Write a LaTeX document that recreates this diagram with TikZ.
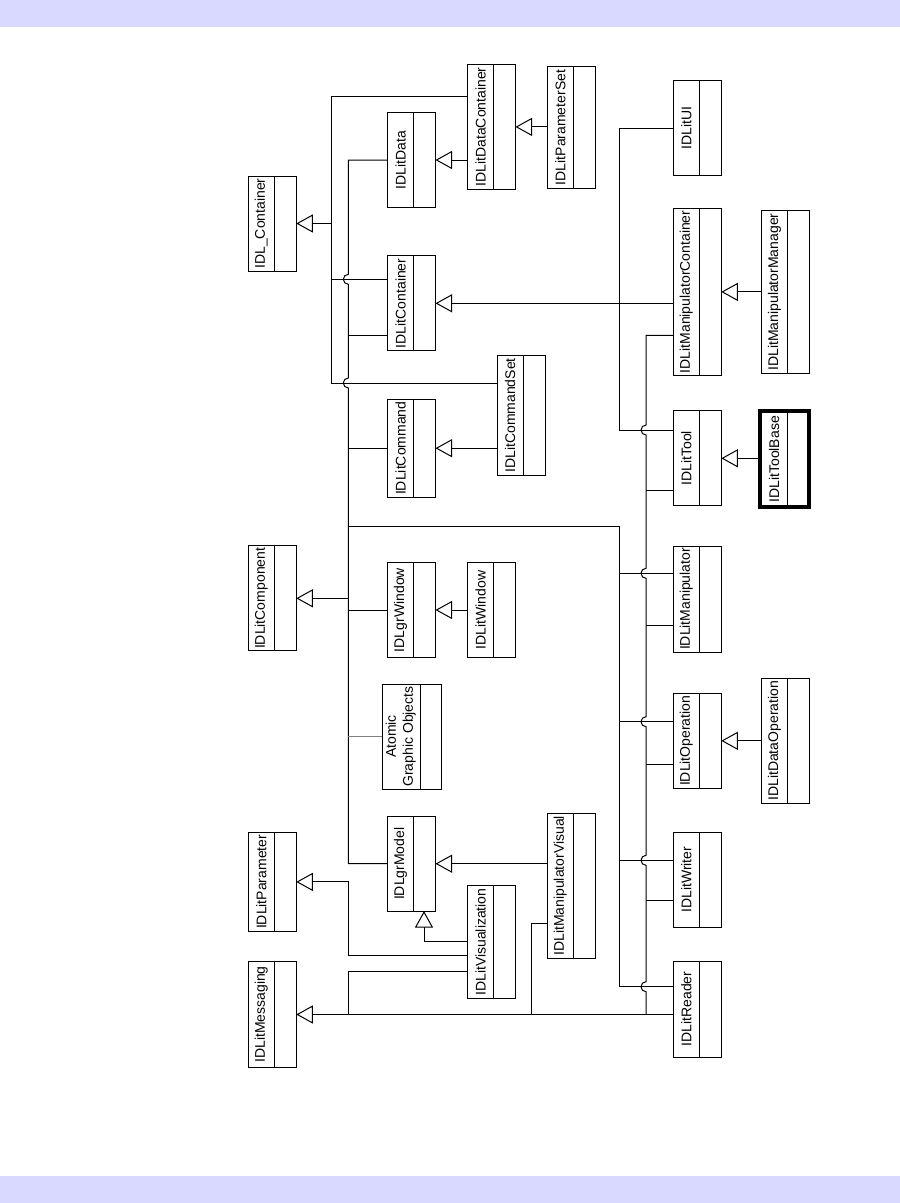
\documentclass[tikz,border=0pt]{standalone}
\usepackage{fontspec}
\setmainfont{Liberation Sans}
\usepackage{tikz}
\usetikzlibrary{arrows.meta, calc}
\definecolor{umlband}{RGB}{217,217,255}
\definecolor{umlgray}{RGB}{128,128,128}
\newcommand{\clsfont}{\fontsize{14bp}{17bp}\selectfont}

\begin{document}
\begin{tikzpicture}[x=1bp, y=-1bp, line width=1bp,
  clsbox/.style={draw, rectangle, minimum width=48bp, inner sep=0pt, outer sep=0pt},
  clsname/.style={rotate=90, font=\clsfont, inner sep=0pt},
  genarrow/.style={-{Triangle[open, length=16.5bp, width=18bp]}}]
\useasboundingbox (0,0) rectangle (900,1203);

% bands
\fill[umlband] (0,0) rectangle (900,27);
\fill[umlband] (0,1176) rectangle (900,1203);

% class box: id, x, y, height, name
\def\umlclass#1#2#3#4#5{%
  \node[clsbox, minimum height=#4bp] (#1) at (#2,#3) {};
  \draw ([xshift=2bp]#1.north) -- ([xshift=2bp]#1.south);
  \node[clsname] (#1-name) at ([xshift=-11bp]#1.center) {#5};
}

% ---- column 1 ----
\umlclass{idlcont}{272.3}{223.5}{95}{IDL\_Container}
\umlclass{comp}{272.3}{598.3}{105.3}{IDLitComponent}
\umlclass{param}{272.3}{881.9}{98.3}{IDLitParameter}
\umlclass{msg}{272.3}{1014.5}{105.6}{IDLitMessaging}

% ---- column 2 ----
\umlclass{data}{411.5}{160}{95.4}{IDLitData}
\umlclass{cont}{411.5}{303.3}{95.3}{IDLitContainer}
\umlclass{cmd}{411.5}{448.2}{98.3}{IDLitCommand}
\umlclass{grwin}{411.5}{610}{94.6}{IDLgrWindow}
\umlclass{model}{411.5}{863.7}{94.7}{IDLgrModel}

\node[clsbox, minimum width=58.7bp, minimum height=105bp] (atomic) at (411.7,736.5) {};
\draw ([xshift=9bp]atomic.north) -- ([xshift=9bp]atomic.south);
\node[clsname, align=center] (atomic-name) at ([xshift=-11bp]atomic.center)
  {Atomic\\Graphic Objects};

% ---- column 3 / 4 ----
\umlclass{datacont}{491.5}{126.9}{124.3}{IDLitDataContainer}
\umlclass{win}{491.5}{610}{94.6}{IDLitWindow}
\umlclass{vis}{491.5}{942}{112.6}{IDLitVisualization}
\umlclass{cmdset}{521.2}{415.4}{119.3}{IDLitCommandSet}
\umlclass{paramset}{571.3}{127.5}{121.6}{IDLitParameterSet}
\umlclass{manvis}{571.3}{885.8}{145}{IDLitManipulatorVisual}

% ---- column 5 ----
\umlclass{ui}{697.3}{128.3}{95.3}{IDLitUI}
\umlclass{mancont}{697.3}{291.9}{166.3}{IDLitManipulatorContainer}
\umlclass{tool}{697.3}{458.3}{95.3}{IDLitTool}
\umlclass{manip}{697.3}{599}{106}{IDLitManipulator}
\umlclass{oper}{697.3}{740.8}{95}{IDLitOperation}
\umlclass{writer}{697.3}{879.7}{94.7}{IDLitWriter}
\umlclass{reader}{697.3}{1009}{96}{IDLitReader}

% ---- column 6 ----
\umlclass{manmgr}{785.5}{292}{162.6}{IDLitManipulatorManager}
\umlclass{dataop}{785.5}{740.8}{125}{IDLitDataOperation}

\node[clsbox, line width=4bp, minimum width=48.4bp, minimum height=96bp] (toolbase) at (784.5,459.3) {};
\draw ([xshift=3.2bp]toolbase.north) -- ([xshift=3.2bp]toolbase.south);
\node[clsname] (toolbase-name) at ([xshift=-10.5bp]toolbase.center) {IDLitToolBase};

% trunks
\coordinate (trA) at (331.7,0);
\coordinate (trB) at (348.3,0);
\coordinate (trC) at (619.3,0);
\coordinate (trD) at (646,0);
\coordinate (trE) at (531.7,0);

% ---- IDL_Container ----
\draw[genarrow] (trA |- idlcont.east) -- (idlcont.east);
\draw (datacont.west |- 0,96) -- (trA |- 0,96) -- (trA |- 0,383) -- (cmdset.west |- 0,383);
\draw (trA |- 0,279.3) -- (cont.west |- 0,279.3);

% ---- IDLitComponent ----
\draw[genarrow] (trB |- comp.east) -- (comp.east);
\draw (data.west) -- (trB |- data.west) -- (trB |- 0,274.3)
  arc[start angle=270, end angle=90, radius=5] -- (trB |- 0,378)
  arc[start angle=270, end angle=90, radius=5] -- (trB |- model.west) -- (model.west);
\draw (trB |- 0,335.3) -- (cont.west |- 0,335.3);
\draw (trB |- cmd.west) -- (cmd.west);
\draw (trB |- grwin.west) -- (grwin.west);
\draw[umlgray] (trB |- atomic.west) -- (atomic.west);
\draw (trB |- 0,526) -- (trC |- 0,526) -- (trC |- 0,986.7) -- (reader.west |- 0,986.7);
\draw (trC |- 0,573.3) -- (manip.west |- 0,573.3);
\draw (trC |- 0,721.7) -- (oper.west |- 0,721.7);
\draw (trC |- 0,860.3) -- (writer.west |- 0,860.3);

% ---- IDLitUI ----
\draw (ui.west) -- (trC |- ui.west) -- (trC |- 0,430) -- (tool.west |- 0,430);

% ---- IDLitMessaging ----
\draw[genarrow] (reader.west |- msg.east) -- (msg.east);
\draw (mancont.west |- 0,335.3) -- (trD |- 0,335.3) -- (trD |- 0,425)
  arc[start angle=270, end angle=90, radius=5] -- (trD |- 0,568.3)
  arc[start angle=270, end angle=90, radius=5] -- (trD |- 0,716.7)
  arc[start angle=270, end angle=90, radius=5] -- (trD |- 0,855.3)
  arc[start angle=270, end angle=90, radius=5] -- (trD |- 0,981.7)
  arc[start angle=270, end angle=90, radius=5] -- (trD |- msg.east);
\draw (trD |- 0,490) -- (tool.west |- 0,490);
\draw (trD |- 0,625) -- (manip.west |- 0,625);
\draw (trD |- 0,764.3) -- (oper.west |- 0,764.3);
\draw (trD |- 0,900.3) -- (writer.west |- 0,900.3);
\draw (trB |- msg.east) -- (trB |- 0,971.7) -- (vis.west |- 0,971.7);
\draw (trE |- msg.east) -- (trE |- 0,923.3) -- (manvis.west |- 0,923.3);

% ---- single generalizations ----
\draw[genarrow] (paramset.west |- datacont.east) -- (datacont.east);
\draw[genarrow] (datacont.west |- data.east) -- (data.east);
\draw[genarrow] (mancont.west |- cont.east) -- (cont.east);
\draw[genarrow] (cmdset.west |- cmd.east) -- (cmd.east);
\draw[genarrow] (win.west |- grwin.east) -- (grwin.east);
\draw[genarrow] (manvis.west |- model.east) -- (model.east);
\draw[genarrow] (vis.west |- 0,941.7) -| ([xshift=12.5bp]model.south);
\draw[genarrow] (vis.west |- 0,955.3) -| (trB |- param.east) -- (param.east);
\draw[genarrow] (manmgr.west |- mancont.east) -- (mancont.east);
\draw[genarrow] (toolbase.west |- tool.east) -- (tool.east);
\draw[genarrow] (dataop.west |- oper.east) -- (oper.east);
\end{tikzpicture}
\end{document}
